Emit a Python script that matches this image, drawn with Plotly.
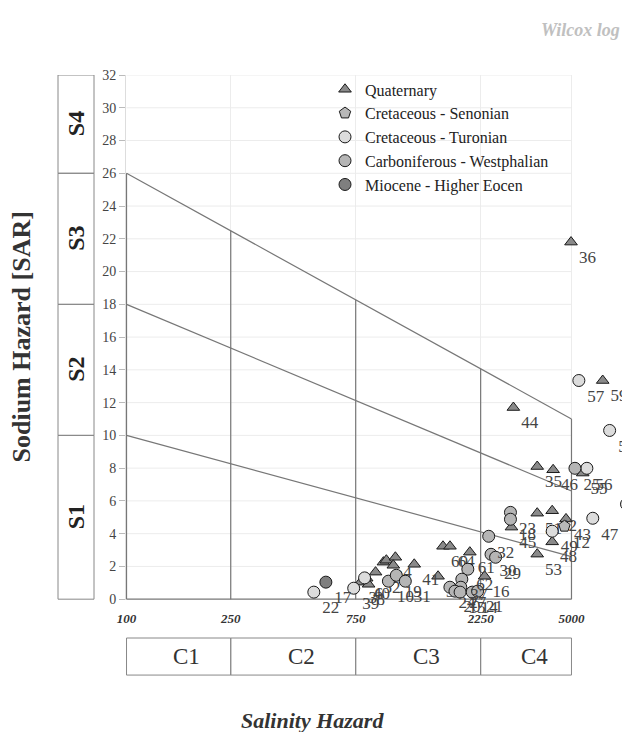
import math
import plotly.graph_objects as go

# ---------------- data ----------------
# Quaternary (triangles)
q_ec = [4980, 6580, 3000, 3700, 4255, 5520, 3700, 4220, 4765, 2950, 4220, 3700,
        1616, 1718, 2046, 2330, 1547, 1255, 783, 826, 840, 893, 957, 982, 1063, 1044]
q_sar = [21.8, 13.35, 11.7, 8.1, 7.9, 7.7, 5.25, 5.4, 4.9, 4.4, 3.5, 2.75,
         3.23, 3.23, 2.87, 1.4, 1.4, 2.13, 1.04, 1.28, 0.91, 1.65, 2.26, 2.38, 2.56, 2.07]
q_id = ["36", "59", "44", "35", "46", "55", "51", "42", "43", "45", "48", "53",
        "60", "64", "61", "16", "34", "41", "3", "6", "8", "52", "1", "2", "4", "9"]

# Cretaceous - Senonian (pentagons)
s_ec = [4700]
s_sar = [4.45]
s_id = ["12"]

# Cretaceous - Turonian (light circles)
t_ec = [5335, 6993, 5725, 6030, 4220, 8110, 519, 737, 811]
t_sar = [13.35, 10.3, 7.99, 4.94, 4.15, 5.8, 0.43, 0.67, 1.3]
t_id = ["57", "58", "56", "47", "49", "54", "22", "39", "40"]

# Carboniferous - Westphalian (medium circles)
c_ec = [5155, 2924, 2924, 2415, 2465, 2566, 2010, 1907, 1890, 1717, 1795, 1878,
        2090, 2190, 1000, 1072, 1160]
c_sar = [7.99, 5.3, 4.88, 3.84, 2.74, 2.56, 1.83, 1.22, 0.73, 0.73, 0.49, 0.43,
         0.43, 0.49, 1.1, 1.46, 1.1]
c_id = ["25", "23", "18", "32", "30", "29", "62", "37", "27", "24", "20", "15",
        "14", "21", "10", "19", "31"]

# Miocene - Higher Eocen (dark circles)
m_ec = [577]
m_sar = [1.04]
m_id = ["17"]

# Wilcox diagram boundaries
ec_breaks = [100, 250, 750, 2250, 5000]
line_sar_at_100 = [26, 18, 10]
line_sar_at_5000 = [11, 6.6, 2.6]
x_ticks = [100, 250, 750, 2250, 5000]
y_ticks = list(range(0, 33, 2))
c_labels = ["C1", "C2", "C3", "C4"]
s_bounds = [0, 10, 18, 26, 32]
s_labels = ["S1", "S2", "S3", "S4"]

SERIF = "Liberation Serif"
LX0, LX1 = math.log10(100), math.log10(5000)

# page layout (the page is offset by 8px body margin)
PLOT_LEFT = 126      # page px
PLOT_W = 504         # plot area runs to the right edge of the window
DIAG_W = 446         # width of the 100..5000 diagram
XR0 = LX0 - 0.002
XR1 = XR0 + (LX1 + 0.002 - XR0) * PLOT_W / DIAG_W


def P(px):
    return (px - PLOT_LEFT) / PLOT_W


def top_line(ec):
    f = (math.log10(ec) - LX0) / (LX1 - LX0)
    return line_sar_at_100[0] + f * (line_sar_at_5000[0] - line_sar_at_100[0])


def xpaper(ec):
    return (math.log10(ec) - XR0) / (XR1 - XR0)


fig = go.Figure()

# horizontal gridlines limited to the diagram (100..5000)
gx, gy = [], []
for v in y_ticks[1:]:
    gx += [100, 5000, None]
    gy += [v, v, None]
fig.add_trace(go.Scatter(x=gx, y=gy, mode="lines", line=dict(color="#ececec", width=1),
                         showlegend=False, hoverinfo="skip"))

# boundary lines
lx, ly = [], []
for a, b in zip(line_sar_at_100, line_sar_at_5000):
    lx += [100, 5000, None]
    ly += [a, b, None]
for ec in ec_breaks[1:-1]:
    lx += [ec, ec, None]
    ly += [0, top_line(ec), None]
lx += [100, 100, None, 5000, 5000, None, 100, 5000]
ly += [0, line_sar_at_100[0], None, 0, line_sar_at_5000[0], None, 0, 0]
fig.add_trace(go.Scatter(x=lx, y=ly, mode="lines", line=dict(color="#777777", width=1.2),
                         showlegend=False, hoverinfo="skip"))

groups = [
    ("Quaternary", q_ec, q_sar, q_id, "triangle-up", "#8a8a8a", 11),
    ("Cretaceous - Senonian", s_ec, s_sar, s_id, "pentagon", "#b8b8b8", 12),
    ("Cretaceous - Turonian", t_ec, t_sar, t_id, "circle", "#dcdcdc", 12),
    ("Carboniferous - Westphalian", c_ec, c_sar, c_id, "circle", "#b5b5b5", 12),
    ("Miocene - Higher Eocen", m_ec, m_sar, m_id, "circle", "#7f7f7f", 12),
]
for name, xs, ys, ids, sym, col, sz in groups:
    fig.add_trace(go.Scatter(
        x=xs, y=ys, text=ids, name=name, mode="markers+text",
        textposition="bottom right",
        textfont=dict(family=SERIF, size=17, color="#444444"),
        marker=dict(symbol=sym, size=sz, color=col, line=dict(color="#1a1a1a", width=1)),
        cliponaxis=False,
    ))

shapes = []
annotations = []
# S boxes
for i in range(4):
    shapes.append(dict(type="rect", xref="paper", yref="y", x0=P(58), x1=P(94),
                       y0=s_bounds[i], y1=s_bounds[i + 1],
                       line=dict(color="#888888", width=1)))
    annotations.append(dict(xref="paper", yref="y", x=P(76), xanchor="center", yanchor="middle",
                            y=(s_bounds[i] + s_bounds[i + 1]) / 2, text="<b>%s</b>" % s_labels[i],
                            textangle=-90, showarrow=False,
                            font=dict(family=SERIF, size=24, color="#222222")))
# C boxes
for i in range(4):
    x0, x1 = xpaper(ec_breaks[i]), xpaper(ec_breaks[i + 1])
    shapes.append(dict(type="rect", xref="paper", yref="paper", x0=x0, x1=x1,
                       y0=-0.143, y1=-0.0724, line=dict(color="#888888", width=1)))
    annotations.append(dict(xref="paper", yref="paper", x=(x0 + x1) / 2 + 0.016, y=-0.1077,
                            xanchor="center", yanchor="middle",
                            text=c_labels[i], showarrow=False,
                            font=dict(family=SERIF, size=23, color="#333333")))

annotations.append(dict(xref="paper", yref="paper", x=P(21), y=0.5, xanchor="center",
                        yanchor="middle",
                        text="<b>Sodium Hazard [SAR]</b>", textangle=-90, showarrow=False,
                        font=dict(family=SERIF, size=26, color="#333333")))
annotations.append(dict(xref="paper", yref="paper", x=P(312), y=-0.229, xanchor="center",
                        yanchor="middle",
                        text="<b><i>Salinity Hazard</i></b>", showarrow=False,
                        font=dict(family=SERIF, size=22, color="#333333")))
annotations.append(dict(xref="paper", yref="paper", x=P(622), y=1.086, xanchor="right",
                        yanchor="middle",
                        text="<b><i>Wilcox log</i></b>", showarrow=False,
                        font=dict(family=SERIF, size=18, color="#c0c0c0")))

fig.update_layout(
    width=622, height=724,
    margin=dict(l=118, r=0, t=67, b=132),
    paper_bgcolor="white", plot_bgcolor="white",
    shapes=shapes, annotations=annotations,
    legend=dict(x=P(325), y=1.005, xanchor="left", yanchor="top",
                bgcolor="rgba(0,0,0,0)", font=dict(family=SERIF, size=16, color="#222222")),
    xaxis=dict(type="log", range=[XR0, XR1], tickvals=x_ticks,
               ticktext=["<b><i>%d</i></b>" % v for v in x_ticks],
               tickfont=dict(family=SERIF, size=13, color="#333333"),
               showgrid=True, gridcolor="#ececec", zeroline=False, showline=False,
               ticks="outside", ticklen=6, tickcolor="rgba(0,0,0,0)"),
    yaxis=dict(range=[-0.05, 32], tickvals=y_ticks,
               tickfont=dict(family=SERIF, size=14, color="#444444"),
               showgrid=False, zeroline=False,
               showline=True, linecolor="#dddddd", ticks="outside", ticklen=6, tickcolor="#bbbbbb"),
)

fig.write_html("out.html")
